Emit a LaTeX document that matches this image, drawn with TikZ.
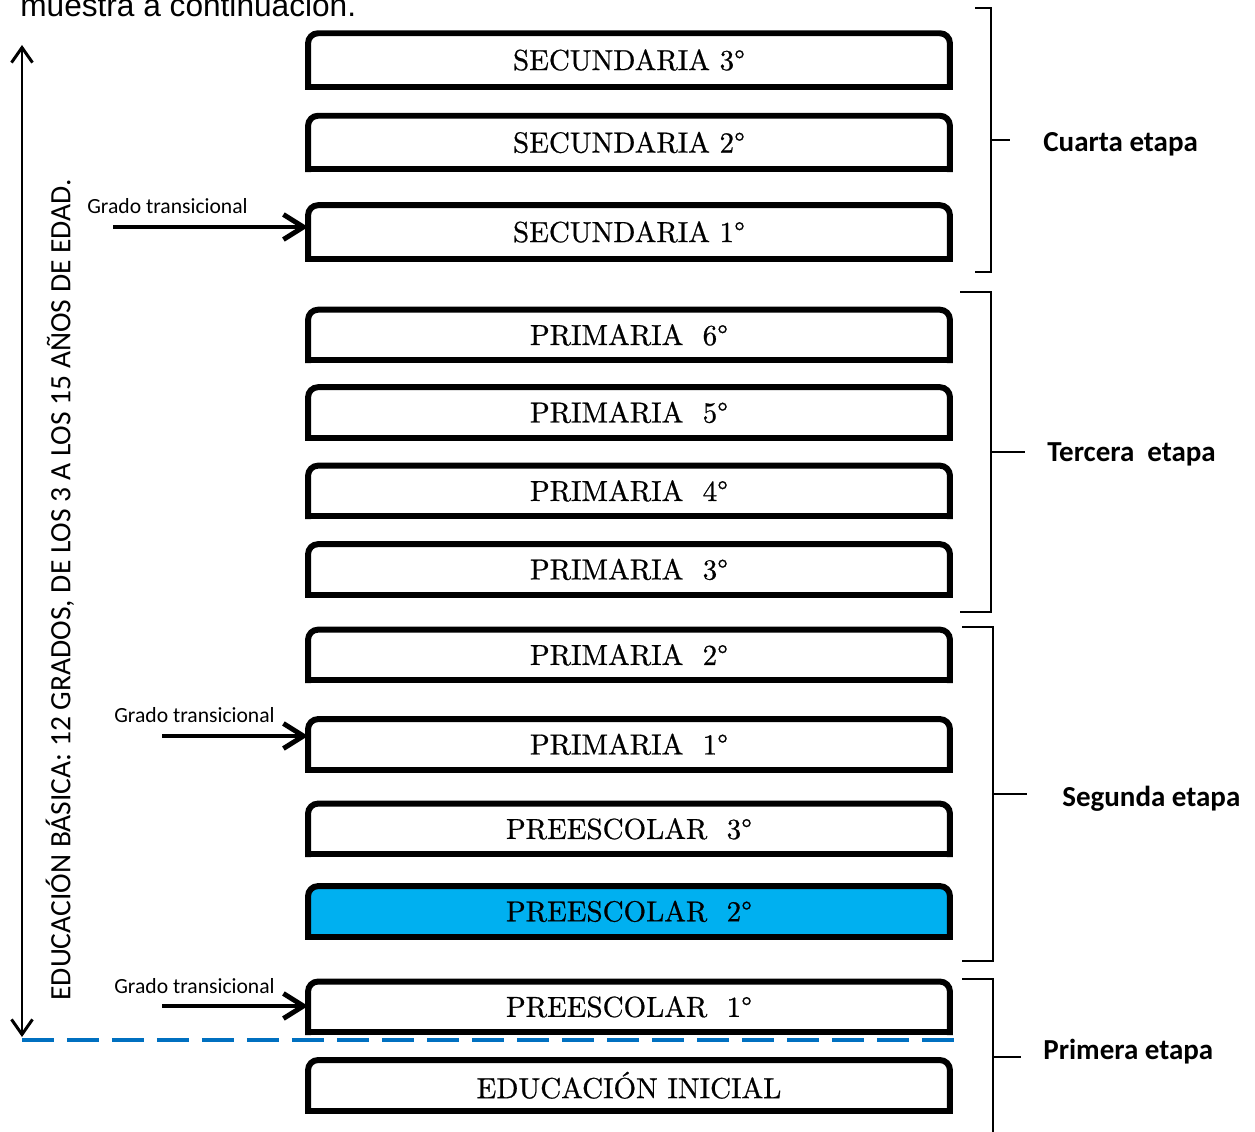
\documentclass[tikz,border=0pt]{standalone}
\usepackage{fontspec}
\newfontfamily\calibri{Carlito}
\newfontfamily\arial{Liberation Sans}
\newfontfamily\grafont{lmroman10-regular.otf}[FakeBold=0.7]
\usetikzlibrary{arrows.meta, positioning, backgrounds}
\definecolor{celeste}{RGB}{0, 176, 240}
\definecolor{azul}{RGB}{0, 112, 192}

\begin{document}
\begin{tikzpicture}[
    x=0.02cm, y=-0.02cm,
    grado/.style={rectangle, minimum width=12.84cm, minimum height=1.01cm, inner sep=0pt, outer sep=0pt, font=\grafont\fontsize{16.5}{20}\selectfont},
    alto/.style={minimum height=1.07cm},
    marco/.style={line width=3.4pt, line cap=rect, rounded corners=0.2cm},
    flecha/.style={line width=2.8pt, -{Straight Barb[length=0.4cm, width=0.5cm]}},
    doble/.style={line width=1.7pt, {Straight Barb[length=0.3cm, width=0.42cm]}-{Straight Barb[length=0.3cm, width=0.42cm]}},
    llave/.style={line width=1.2pt},
    etapa/.style={anchor=base west, inner sep=0pt, font=\calibri\bfseries\fontsize{16.5}{20}\selectfont},
    nota/.style={anchor=base west, inner sep=0pt, font=\calibri\fontsize{12.3}{15}\selectfont}
]
\useasboundingbox (0,0) rectangle (1255,1132);

\node[anchor=base west, inner sep=0pt, font=\arial\fontsize{18}{22}\selectfont] (intro) at (20,17) {muestra a continuación.};

% grados
\node[grado, alto] (sec3) at (629,60) {SECUNDARIA 3°};
\node[grado, alto, below=0.58cm of sec3] (sec2) {SECUNDARIA 2°};
\node[grado, alto, below=0.72cm of sec2] (sec1) {SECUNDARIA 1°};
\node[grado, below=1.02cm of sec1] (pri6) {PRIMARIA\ \ 6°};
\node[grado, below=0.54cm of pri6] (pri5) {PRIMARIA\ \ 5°};
\node[grado, below=0.56cm of pri5] (pri4) {PRIMARIA\ \ 4°};
\node[grado, below=0.56cm of pri4] (pri3) {PRIMARIA\ \ 3°};
\node[grado, below=0.70cm of pri3] (pri2) {PRIMARIA\ \ 2°};
\node[grado, below=0.78cm of pri2] (pri1) {PRIMARIA\ \ 1°};
\node[grado, below=0.68cm of pri1] (pre3) {PREESCOLAR\ \ 3°};
\node[grado, below=0.64cm of pre3] (pre2) {PREESCOLAR\ \ 2°};
\node[grado, below=0.90cm of pre2] (pre1) {PREESCOLAR\ \ 1°};
\node[grado, below=0.56cm of pre1] (ini) {EDUCACIÓN INICIAL};

\begin{scope}[on background layer]
\fill[celeste, rounded corners=0.2cm] (pre2.south west) -- (pre2.north west) -- (pre2.north east) -- (pre2.south east);
\end{scope}

\foreach \b in {sec3,sec2,sec1,pri6,pri5,pri4,pri3,pri2,pri1,pre3,pre2,pre1,ini}{
    \draw[marco] (\b.south west) -- (\b.north west) -- (\b.north east) -- (\b.south east);
    \draw[marco] (\b.south west) -- (\b.south east);
}

% flecha vertical
\coordinate (arriba) at (22,45);
\coordinate (abajo) at (22,1037);
\draw[doble] (abajo) -- (arriba);
\node[rotate=90, inner sep=0pt, font=\calibri\fontsize{16.8}{20}\selectfont] (basica) at (60,590) {EDUCACIÓN BÁSICA: 12 GRADOS, DE LOS 3 A LOS 15 AÑOS DE EDAD.};

% grados transicionales
\coordinate (t1) at (113,227);
\coordinate (t2) at (162,736);
\coordinate (t3) at (162,1006);
\draw[flecha] (t1) -- (t1 -| sec1.west);
\draw[flecha] (t2) -- (t2 -| pri1.west);
\draw[flecha] (t3) -- (t3 -| pre1.west);
\node[nota] (n1) at (87,214) {Grado transicional};
\node[nota] (n2) at (114,722) {Grado transicional};
\node[nota] (n3) at (114,993) {Grado transicional};

\coordinate (c1) at (22,1040);
\coordinate (c2) at (962,1040);
\draw[azul, line width=2.3pt, dash pattern=on 0.64cm off 0.26cm] (c1) -- (c2);

% etapas
\foreach \xa/\xb/\ya/\yb/\ym/\xm in {975/991/8/272/140/1010, 960/991/292/612/452/1025, 962/993/627/961/794/1027}{
    \draw[llave] (\xa,\ya) -| (\xb,\yb) -- (\xa,\yb);
    \draw[llave] (\xb,\ym) -- (\xm,\ym);
}
\draw[llave] (962,979) -| (993,1140);
\draw[llave] (993,1057) -- (1021,1057);

\node[etapa] (cuarta) at (1043,152) {Cuarta etapa};
\node[etapa] (tercera) at (1047,461) {Tercera\ \ etapa};
\node[etapa] (segunda) at (1062,806) {Segunda etapa};
\node[etapa] (primera) at (1043,1059) {Primera etapa};
\end{tikzpicture}
\end{document}
